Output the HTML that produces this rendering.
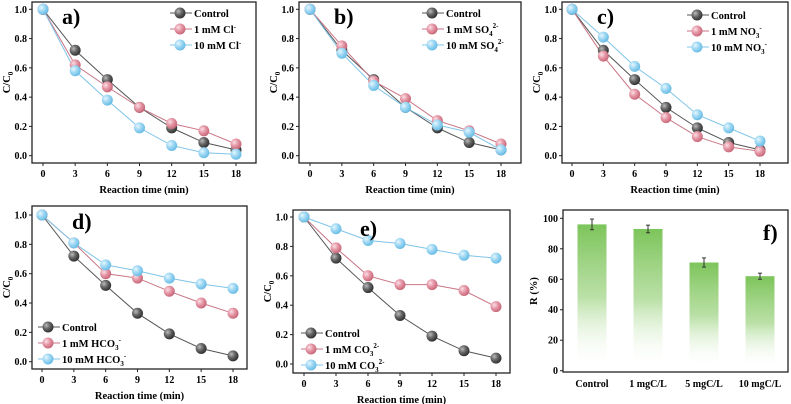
<!DOCTYPE html>
<html><head><meta charset="utf-8"><style>
body{margin:0;background:#fff;}
svg{display:block;font-family:"Liberation Serif",serif;font-weight:bold;}
</style></head><body>
<svg id="fig" width="791" height="404" viewBox="0 0 791 404">
<defs>
<radialGradient id="gk" cx="35%" cy="35%" r="65%"><stop offset="0" stop-color="#bbb"/><stop offset="0.5" stop-color="#666"/><stop offset="1" stop-color="#333"/></radialGradient>
<radialGradient id="gp" cx="35%" cy="35%" r="65%"><stop offset="0" stop-color="#fbe0e6"/><stop offset="0.5" stop-color="#e597a6"/><stop offset="1" stop-color="#c96a7c"/></radialGradient>
<radialGradient id="gb" cx="35%" cy="35%" r="65%"><stop offset="0" stop-color="#e6f6fd"/><stop offset="0.5" stop-color="#9fd8f3"/><stop offset="1" stop-color="#6bbde6"/></radialGradient>
<linearGradient id="gbar" x1="0" y1="0" x2="0" y2="1"><stop offset="0" stop-color="#7cc45a"/><stop offset="0.5" stop-color="#a8d88f" stop-opacity="0.8"/><stop offset="1" stop-color="#ffffff" stop-opacity="0"/></linearGradient>
</defs>
</svg>
<script>
const times=[0,3,6,9,12,15,18];
const ctrl=[1,0.72,0.52,0.33,0.19,0.09,0.04];
const aS1=[1,0.62,0.47,0.33,0.22,0.17,0.08];
const aS2=[1,0.58,0.38,0.19,0.07,0.02,0.01];
const bS1=[1,0.75,0.51,0.39,0.24,0.17,0.08];
const bS2=[1,0.70,0.48,0.33,0.21,0.16,0.04];
const cS1=[1,0.68,0.42,0.26,0.13,0.06,0.03];
const cS2=[1,0.81,0.61,0.46,0.28,0.19,0.10];
const dS1=[1,0.81,0.60,0.57,0.48,0.40,0.33];
const dS2=[1,0.81,0.66,0.62,0.57,0.53,0.50];
const eS1=[1,0.79,0.60,0.54,0.54,0.50,0.39];
const eS2=[1,0.92,0.84,0.82,0.78,0.74,0.72];
const yTicks=[0,0.2,0.4,0.6,0.8,1.0];
const fCats=["Control","1 mgC/L","5 mgC/L","10 mgC/L"];
const fVals=[96,93,71,62];
const fErr=[3.5,2.5,3,2];
const fTicks=[0,20,40,60,80,100];

const svg=document.getElementById('fig');
const NS="http://www.w3.org/2000/svg";
function mk(tag,attrs,parent,txt){const e=document.createElementNS(NS,tag);for(const k in attrs)e.setAttribute(k,attrs[k]);if(txt!==undefined)e.textContent=txt;(parent||svg).appendChild(e);return e;}

const panels=[
 {id:'a',L:32,R:256,T:2,B:163,x0:43,x18:236,y1:9.3,y0:155.7,s:[ctrl,aS1,aS2],leg:['Control','1 mM Cl','10 mM Cl'],sup:['','-','-'],sub:['','',''],lx:180,ly:13,lab:[62,24]},
 {id:'b',L:299,R:521,T:2,B:163,x0:310,x18:501,y1:9.3,y0:155.7,s:[ctrl,bS1,bS2],leg:['Control','1 mM SO','10 mM SO'],sup:['','2-','2-'],sub:['','4','4'],lx:432,ly:13,lab:[334,24]},
 {id:'c',L:562,R:788,T:2,B:163,x0:572,x18:760,y1:9.3,y0:155.7,s:[ctrl,cS1,cS2],leg:['Control','1 mM NO','10 mM NO'],sup:['','-','-'],sub:['','3','3'],lx:697,ly:15,lab:[597,24]},
 {id:'d',L:32,R:247,T:206,B:369,x0:42,x18:233,y1:215,y0:361.7,s:[ctrl,dS1,dS2],leg:['Control','1 mM HCO','10 mM HCO'],sup:['','-','-'],sub:['','3','3'],lx:48,ly:327,lab:[72,229]},
 {id:'e',L:293,R:510,T:210,B:373,x0:304,x18:496,y1:217,y0:364,s:[ctrl,eS1,eS2],leg:['Control','1 mM CO','10 mM CO'],sup:['','2-','2-'],sub:['','3','3'],lx:311,ly:333,lab:[360,236]}
];
const cols=['url(#gk)','url(#gp)','url(#gb)'];
const lineCols=['#555','#c97585','#7fc4e8'];

panels.forEach(p=>{
 const g=mk('g',{});  
 const X=t=>p.x0+(p.x18-p.x0)*t/18, Y=v=>p.y0+(p.y1-p.y0)*v;
 mk('rect',{x:p.L,y:p.T,width:p.R-p.L,height:p.B-p.T,fill:'none',stroke:'#222','stroke-width':1.3},g);
 yTicks.forEach(v=>{const y=Y(v);mk('line',{x1:p.L-3,x2:p.L,y1:y,y2:y,stroke:'#222'},g);
  mk('text',{x:p.L-5,y:y+3.5,'font-size':10,'text-anchor':'end'},g,v.toFixed(1));});
 times.forEach(t=>{const x=X(t);mk('line',{x1:x,x2:x,y1:p.B,y2:p.B+3,stroke:'#222'},g);
  mk('text',{x:x,y:p.B+14,'font-size':10,'text-anchor':'middle'},g,String(t));});
 const xl=mk('text',{x:(p.L+p.R)/2,y:p.B+30,'font-size':10.5,'text-anchor':'middle'},g,'Reaction time (min)');
 
 const yl=mk('text',{x:0,y:0,'font-size':10.5,'text-anchor':'middle',transform:`translate(${p.L-22},${(p.T+p.B)/2}) rotate(-90)`},g);
 
 mk('tspan',{},yl,'C/C');mk('tspan',{'font-size':7,dy:3},yl,'0');
 p.s.forEach((arr,i)=>{
  const pts=arr.map((v,j)=>X(times[j])+','+Y(v)).join(' ');
  const ln=mk('polyline',{points:pts,fill:'none',stroke:lineCols[i],'stroke-width':1},g);
  
 });
 p.s.forEach((arr,i)=>{arr.forEach((v,j)=>{
  const c=mk('circle',{cx:X(times[j]),cy:Y(v),r:5.5,fill:cols[i]},g);
  });});
 const pl=mk('text',{x:p.lab[0],y:p.lab[1],'font-size':22},g,p.id+')');
 
 p.leg.forEach((name,i)=>{
  const ly=p.ly+i*16;
  const le=mk('g',{},g);
  mk('line',{x1:p.lx-10,x2:p.lx+12,y1:ly,y2:ly,stroke:lineCols[i]},le);
  mk('circle',{cx:p.lx,cy:ly,r:5.5,fill:cols[i]},le);
  const t=mk('text',{x:p.lx+14,y:ly+4,'font-size':10.5},le,name);
  if(p.sub[i])mk('tspan',{'font-size':7,dy:3},t,p.sub[i]);
  if(p.sup[i])mk('tspan',{'font-size':7,dy:p.sub[i]?-8:-4},t,p.sup[i]);
 });
});

// panel f
(function(){
 const L=563,R=788,T=210,B=372,yb=370.7,yt=218.3;
 const g=mk('g',{});
 const Y=v=>yb+(yt-yb)*v/100;
 const X=i=>592+i*56;
 mk('rect',{x:L,y:T,width:R-L,height:B-T,fill:'none',stroke:'#222','stroke-width':1.3},g);
 fVals.forEach((v,i)=>{
  const b=mk('rect',{x:X(i)-14.5,y:Y(v),width:29,height:Y(0)-Y(v)-2,fill:'url(#gbar)'},g);
  
  const e=fErr[i],x=X(i);
  mk('line',{x1:x,x2:x,y1:Y(v+e),y2:Y(v-e),stroke:'#333'},g);
  mk('line',{x1:x-2,x2:x+2,y1:Y(v+e),y2:Y(v+e),stroke:'#333'},g);
  mk('line',{x1:x-2,x2:x+2,y1:Y(v-e),y2:Y(v-e),stroke:'#333'},g);
  mk('text',{x:x,y:B+15,'font-size':10,'text-anchor':'middle'},g,fCats[i]);
 });
 fTicks.forEach(v=>{const y=Y(v);mk('line',{x1:L-3,x2:L,y1:y,y2:y,stroke:'#222'},g);
  mk('text',{x:L-5,y:y+3.5,'font-size':10,'text-anchor':'end'},g,String(v));});
 const yl=mk('text',{x:0,y:0,'font-size':10.5,'text-anchor':'middle',transform:`translate(${L-26},${(T+B)/2}) rotate(-90)`},g,'R (%)');
 
 const pl=mk('text',{x:763,y:240,'font-size':22},g,'f)');
 
})();
</script>
</body></html>
